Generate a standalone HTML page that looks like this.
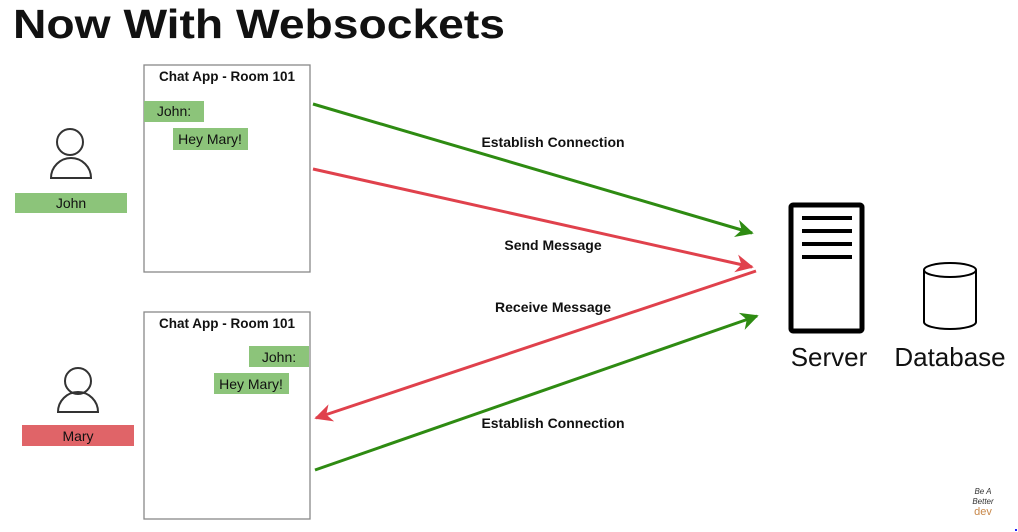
<!DOCTYPE html>
<html><head><meta charset="utf-8"><style>
html,body{margin:0;padding:0;background:#fff;}
svg{display:block;font-family:"Liberation Sans",Arial,sans-serif;}
</style></head><body>
<svg width="1018" height="532" viewBox="0 0 1018 532" xmlns="http://www.w3.org/2000/svg">
<defs>
<marker id="ag" viewBox="0 0 10 10" refX="9" refY="5" markerWidth="6" markerHeight="6" orient="auto"><path d="M0,0 L10,5 L0,10 L3,5 z" fill="#2e8b12"/></marker>
<marker id="ar" viewBox="0 0 10 10" refX="9" refY="5" markerWidth="6" markerHeight="6" orient="auto"><path d="M0,0 L10,5 L0,10 L3,5 z" fill="#e0414c"/></marker>
</defs>
<text x="13" y="38" font-size="41" font-weight="bold" fill="#111" textLength="492" lengthAdjust="spacingAndGlyphs">Now With Websockets</text>

<!-- John -->
<circle cx="70" cy="142" r="13" fill="none" stroke="#333" stroke-width="2"/>
<path d="M51,178 A20,20 0 0 1 91,178 Z" fill="none" stroke="#333" stroke-width="2"/>
<rect x="15" y="193" width="112" height="20" fill="#8cc47a"/>
<text x="71" y="208" font-size="14" text-anchor="middle" fill="#111">John</text>

<!-- Mary -->
<circle cx="78" cy="381" r="13" fill="none" stroke="#333" stroke-width="2"/>
<path d="M58,412 A20,20 0 0 1 98,412 Z" fill="none" stroke="#333" stroke-width="2"/>
<rect x="22" y="425" width="112" height="21" fill="#e06468"/>
<text x="78" y="441" font-size="14" text-anchor="middle" fill="#111">Mary</text>

<!-- Boxes -->
<rect x="144" y="65" width="166" height="207" fill="#fff" stroke="#888" stroke-width="1.3"/>
<text x="227" y="81" font-size="13.5" font-weight="bold" text-anchor="middle" fill="#111">Chat App - Room 101</text>
<rect x="144" y="101" width="60" height="21" fill="#8cc47a"/>
<text x="174" y="116" font-size="14" text-anchor="middle" fill="#111">John:</text>
<rect x="173" y="128" width="75" height="22" fill="#8cc47a"/>
<text x="210" y="144" font-size="14" text-anchor="middle" fill="#111">Hey Mary!</text>

<rect x="144" y="312" width="166" height="207" fill="#fff" stroke="#888" stroke-width="1.3"/>
<text x="227" y="328" font-size="13.5" font-weight="bold" text-anchor="middle" fill="#111">Chat App - Room 101</text>
<rect x="249" y="346" width="60" height="21" fill="#8cc47a"/>
<text x="279" y="362" font-size="14" text-anchor="middle" fill="#111">John:</text>
<rect x="214" y="373" width="75" height="21" fill="#8cc47a"/>
<text x="251" y="389" font-size="14" text-anchor="middle" fill="#111">Hey Mary!</text>

<!-- Arrows -->
<line x1="313" y1="104" x2="752" y2="233" stroke="#2e8b12" stroke-width="3" marker-end="url(#ag)"/>
<line x1="313" y1="169" x2="752" y2="267" stroke="#e0414c" stroke-width="3" marker-end="url(#ar)"/>
<line x1="756" y1="271" x2="316" y2="418" stroke="#e0414c" stroke-width="3" marker-end="url(#ar)"/>
<line x1="315" y1="470" x2="757" y2="316" stroke="#2e8b12" stroke-width="3" marker-end="url(#ag)"/>

<text x="553" y="147" font-size="14" font-weight="bold" text-anchor="middle" fill="#111">Establish Connection</text>
<text x="553" y="250" font-size="14" font-weight="bold" text-anchor="middle" fill="#111">Send Message</text>
<text x="553" y="312" font-size="14" font-weight="bold" text-anchor="middle" fill="#111">Receive Message</text>
<text x="553" y="428" font-size="14" font-weight="bold" text-anchor="middle" fill="#111">Establish Connection</text>

<!-- Server -->
<rect x="791" y="205" width="71" height="126" rx="2" fill="#fff" stroke="#000" stroke-width="5"/>
<rect x="802" y="216" width="50" height="4" fill="#000"/>
<rect x="802" y="229" width="50" height="4" fill="#000"/>
<rect x="802" y="242" width="50" height="4" fill="#000"/>
<rect x="802" y="255" width="50" height="4" fill="#000"/>
<text x="829" y="366" font-size="26" text-anchor="middle" fill="#111">Server</text>

<!-- Database -->
<path d="M924,270 L924,322 A26,7 0 0 0 976,322 L976,270" fill="#fff" stroke="#000" stroke-width="2"/>
<ellipse cx="950" cy="270" rx="26" ry="7" fill="#fff" stroke="#000" stroke-width="2"/>
<text x="950" y="366" font-size="26" text-anchor="middle" fill="#111">Database</text>

<!-- Logo -->
<text x="983" y="494" font-size="8" font-style="italic" text-anchor="middle" fill="#333">Be A</text>
<text x="983" y="504" font-size="8" font-style="italic" text-anchor="middle" fill="#333">Better</text>
<text x="983" y="515" font-size="11" text-anchor="middle" fill="#c8884a">dev</text>
<rect x="1015" y="529" width="2" height="2" fill="#22f"/>
</svg>
</body></html>
